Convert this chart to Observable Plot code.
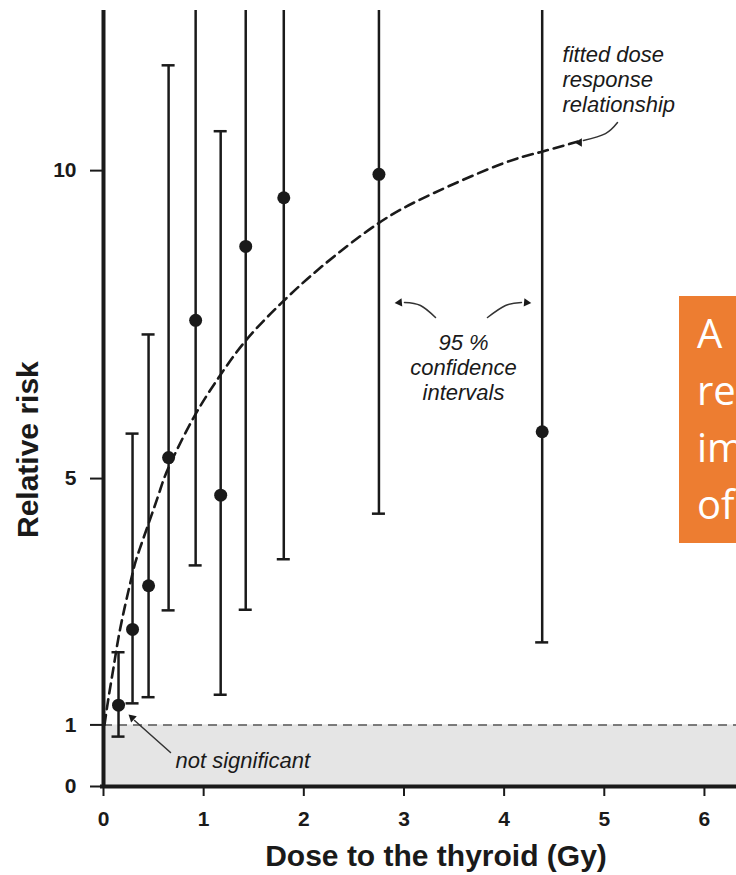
<!DOCTYPE html>
<html><head><meta charset="utf-8">
<script src="https://cdn.jsdelivr.net/npm/d3@7"></script>
<script src="https://cdn.jsdelivr.net/npm/@observablehq/plot@0.6"></script>
<style>
html,body{margin:0;padding:0;background:#fff;}
#wrap{position:relative;width:736px;height:875px;overflow:hidden;}
#box{position:absolute;left:679px;top:296px;width:80px;height:247px;background:#ED7D31;color:#fff;font-family:"Open Sans",sans-serif;font-size:40px;line-height:57px;padding:8px 0 0 18px;box-sizing:border-box;white-space:pre;}
g[aria-label$="tick label"] text{font-size:21px;font-weight:bold;fill:#1a1a1a;}
g[aria-label$="-axis tick"] path{stroke-width:2px;stroke:#1a1a1a;}
</style></head><body>
<div id="wrap"><div id="chart"></div><div id="box">A
re
im
of</div></div>
<script>
// Observed data points (dose in Gy, relative risk, 95% CI)
const dose = [0.15, 0.29, 0.45, 0.65, 0.92, 1.17, 1.42, 1.80, 2.75, 4.38];
const rr   = [1.32, 2.55, 3.26, 5.34, 7.57, 4.73, 8.77, 9.56, 9.94, 5.76];
const ciLo = [0.81, 1.35, 1.45, 2.86, 3.59, 1.49, 2.87, 3.69, 4.43, 2.34];
const ciHi = [2.18, 5.73, 7.34, 11.71, null, 10.64, null, null, null, null]; // null = beyond top of chart

// Fitted dose-response curve
const fitDose = [0.01, 0.05, 0.10, 0.15, 0.22, 0.29, 0.36, 0.54, 0.65, 0.90, 1.15, 1.42, 1.77, 2.17, 2.74, 3.29, 3.96, 4.36, 4.73];
const fitRR   = [1.00, 1.44, 1.93, 2.42, 2.97, 3.46, 3.85, 4.69, 5.18, 5.99, 6.64, 7.24, 7.84, 8.43, 9.14, 9.63, 10.10, 10.30, 10.47];

const xTicks = [0, 1, 2, 3, 4, 5, 6];
const yTicks = [0, 1, 5, 10];
const xMax = 6.32, yMax = 12.6;
const refRR = 1;

// Axis titles (data coordinates of their centres)
const axisTitles = [
  {text: "Dose to the thyroid (Gy)", x: 3.32, y: -1.14, rotate: 0},
  {text: "Relative risk", x: -0.75, y: 5.47, rotate: -90}
];

// Annotations (data coordinates)
const noteText   = ["fitted dose\nresponse\nrelationship", "95 %\nconfidence\nintervals", "not significant"];
const noteX      = [4.583, 3.594, 0.719];
const noteY      = [12.05, 7.38, 0.594];
const noteAnchor = ["start", "middle", "start"];

const arrowId = ["fit","fit","fit","ciL","ciL","ciL","ciR","ciR","ciR","ns","ns"];
const arrowX  = [5.132, 5.012, 4.792, 3.315, 3.165, 3.005, 3.834, 4.014, 4.173, 0.669, 0.310];
const arrowY  = [10.781, 10.602, 10.489, 7.615, 7.810, 7.858, 7.615, 7.810, 7.858, 0.552, 1.072];
const headX   = [4.752, 2.955, 4.223, 0.286];
const headY   = [10.457, 7.858, 7.858, 1.117];
const headRot = [-90, -95, 95, -48];

const points = dose.map((d, i) => ({x: d, y: rr[i], lo: ciLo[i], hi: ciHi[i]}));
const fit = fitDose.map((d, i) => ({x: d, y: fitRR[i]}));
const notes = noteText.map((t, i) => ({text: t, x: noteX[i], y: noteY[i], anchor: noteAnchor[i]}));
const arrows = arrowId.map((id, i) => ({id, x: arrowX[i], y: arrowY[i]}));
const heads = headX.map((x, i) => ({x, y: headY[i], rot: headRot[i]}));
const capHalf = 0.065;
const ink = "#1a1a1a";

const chart = Plot.plot({
  width: 736, height: 875,
  marginLeft: 103, marginRight: 0, marginTop: 10, marginBottom: 89,
  style: {fontFamily: "'Liberation Sans', Arial, sans-serif", background: "white", color: ink},
  x: {domain: [0, xMax], ticks: xTicks, tickSize: 10, tickPadding: 15, tickFormat: d => d, label: null},
  y: {domain: [0, yMax], ticks: yTicks, tickSize: 13, tickPadding: 14, tickFormat: d => d, label: null},
  marks: [
    Plot.rect([refRR], {x1: () => 0, x2: () => xMax, y1: () => 0, y2: d => d, fill: "#e5e5e5"}),
    Plot.ruleY([refRR], {x1: () => 0, x2: () => xMax, stroke: "#555", strokeWidth: 1.5, strokeDasharray: "9,6"}),
    Plot.line(fit, {x: "x", y: "y", curve: "natural", stroke: ink, strokeWidth: 2.6, strokeDasharray: "10,6"}),
    Plot.ruleX(points, {x: "x", y1: "lo", y2: d => d.hi ?? yMax, stroke: ink, strokeWidth: 2.5}),
    Plot.ruleY(points.filter(d => d.hi != null), {y: "hi", x1: d => d.x - capHalf, x2: d => d.x + capHalf, stroke: ink, strokeWidth: 2.5}),
    Plot.ruleY(points, {y: "lo", x1: d => d.x - capHalf, x2: d => d.x + capHalf, stroke: ink, strokeWidth: 2.5}),
    Plot.dot(points, {x: "x", y: "y", r: 6.5, fill: ink, stroke: "none"}),
    Plot.ruleX([0], {y1: 0, y2: yMax, stroke: ink, strokeWidth: 4}),
    Plot.ruleY([0], {x1: -0.03, x2: xMax, stroke: ink, strokeWidth: 4}),
    Plot.line(arrows, {x: "x", y: "y", z: "id", curve: "natural", stroke: "#333", strokeWidth: 1.5}),
    Plot.dot(heads, {x: "x", y: "y", rotate: "rot", symbol: "triangle2", r: 4, fill: ink, stroke: "none"}),
    Plot.text(notes.filter(d => d.anchor === "start"), {x: "x", y: "y", text: "text", textAnchor: "start", lineAnchor: "top", fontSize: 22, fontStyle: "italic", lineHeight: 1.136, fill: ink}),
    Plot.text(notes.filter(d => d.anchor === "middle"), {x: "x", y: "y", text: "text", textAnchor: "middle", lineAnchor: "top", fontSize: 22, fontStyle: "italic", lineHeight: 1.136, fill: ink}),
    Plot.text(axisTitles.filter(d => d.rotate === 0), {x: "x", y: "y", text: "text", lineAnchor: "middle", fontSize: 30, fontWeight: "bold", fill: ink, clip: false}),
    Plot.text(axisTitles.filter(d => d.rotate !== 0), {x: "x", y: "y", text: "text", rotate: -90, lineAnchor: "middle", fontSize: 30, fontWeight: "bold", fill: ink, clip: false})
  ]
});
document.getElementById("chart").appendChild(chart);
</script>
</body></html>
